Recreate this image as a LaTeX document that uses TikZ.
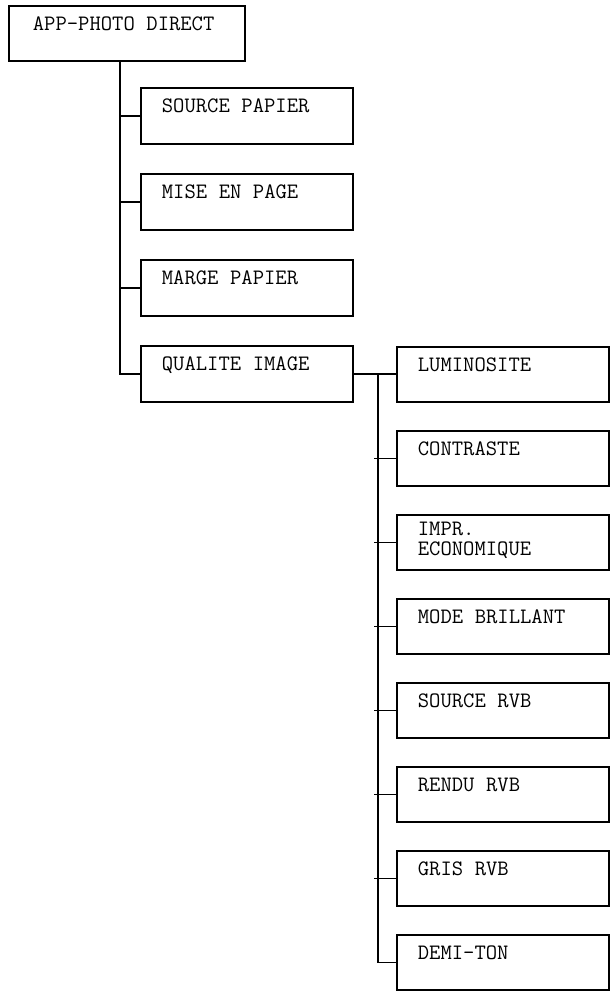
\documentclass[tikz,border=0pt]{standalone}
\usetikzlibrary{positioning}
\newcommand{\menufont}{\ttfamily\fontsize{22}{20}\selectfont}
\newcommand{\menuspace}{\spaceskip 11.55pt\xspaceskip 11.55pt\relax}

\begin{document}
\begin{tikzpicture}[x=1pt,y=1pt,
    every node/.style={font=\menufont, execute at begin node=\menuspace},
    menubox/.style={draw, line width=1.8pt, anchor=north west, inner ysep=0pt,
      inner xsep=21pt, text width=170.2pt, text height=25pt, text depth=31.2pt},
    subbox/.style={menubox, text depth=30.2pt},
    link/.style={line width=1.8pt}]
  \useasboundingbox (0,0) rectangle (615,-998);

  % root
  \node[menubox, inner xsep=24pt, text width=188.2pt, text depth=30.2pt] (root) at (8,-5)
    {APP-PHOTO DIRECT};

  % first level
  \node[menubox] (srcp) at (140,-87) {SOURCE PAPIER};
  \node[menubox, below=28pt of srcp] (mise) {MISE EN PAGE};
  \node[menubox, below=28pt of mise] (marg) {MARGE PAPIER};
  \node[menubox, below=28pt of marg] (qual) {QUALITE IMAGE};

  % second level
  \node[subbox] (lum) at (396,-346) {LUMINOSITE};
  \node[subbox, below=27pt of lum] (con) {CONTRASTE};
  \node[subbox, below=27pt of con, text height=21pt, text depth=34.2pt] (impr)
    {IMPR.\\ECONOMIQUE};
  \node[subbox, below=27pt of impr] (mode) {MODE BRILLANT};
  \node[subbox, below=27pt of mode] (srvb) {SOURCE RVB};
  \node[subbox, below=27pt of srvb] (rend) {RENDU RVB};
  \node[subbox, below=27pt of rend] (gris) {GRIS RVB};
  \node[subbox, below=27pt of gris] (demi) {DEMI-TON};

  % links, first level
  \coordinate (tr1) at ([xshift=-7pt]root.south);
  \foreach \n in {srcp,mise,marg,qual}
    \draw[link] (tr1) |- (\n.west);

  % links, second level
  \coordinate (tr2) at ([xshift=24pt]qual.east);
  \draw[link] (qual.east) -- (qual.east -| lum.west);
  \draw[link] (tr2) |- (demi.west);
  \foreach \n in {con,impr,mode,srvb,rend,gris}
    \draw[link] ([xshift=-4pt]tr2 |- \n.west) -- (\n.west);
\end{tikzpicture}
\end{document}
